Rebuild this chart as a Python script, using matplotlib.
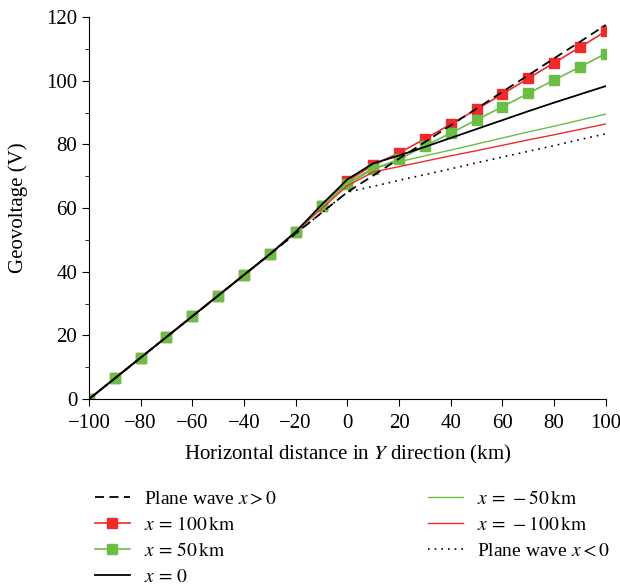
import matplotlib
matplotlib.use('Agg')
import matplotlib.pyplot as plt
import numpy as np

plt.rcParams['font.family'] = ['Liberation Serif', 'DejaVu Serif']
plt.rcParams['mathtext.fontset'] = 'stix'

# 数据：水平距离 (km) 与地电压 (V)
y_dist = np.arange(-100, 101, 10)

left_common = [0, 6.5, 13, 19.5, 26, 32.5, 39, 45.5, 52.5]

plane_pos = [0, 6.5, 13, 19.5, 26, 32.5, 39, 45.5, 52, 58.5, 65,
             70.2, 75.5, 80.7, 86, 91.2, 96.5, 101.7, 107, 112.2, 117.5]
x100 = left_common + [60.5, 68.5,
                      73.5, 77.3, 81.7, 86.3, 91, 95.8, 100.7, 105.6, 110.5, 115.5]
x50 = left_common + [60.5, 67.5,
                     72.2, 75.3, 79.5, 83.5, 87.7, 91.8, 96, 100.2, 104.3, 108.5]
x0 = left_common + [61, 69,
                    74, 76.5, 79.2, 82, 84.8, 87.6, 90.4, 93.1, 95.7, 98.3]
xm50 = left_common + [60.5, 68,
                      72.5, 74.5, 76.4, 78.2, 80.1, 82, 83.9, 85.7, 87.6, 89.5]
xm100 = left_common + [59.8, 67,
                       71.3, 73, 74.7, 76.4, 78, 79.7, 81.4, 83, 84.7, 86.4]
plane_neg = [0, 6.5, 13, 19.5, 26, 32.5, 39, 45.5, 52, 58.5, 65,
             66.8, 68.7, 70.5, 72.3, 74.2, 76, 77.8, 79.6, 81.5, 83.3]

red = '#EE2A2A'
green = '#6BBE45'
fs = 15

fig = plt.figure(figsize=(6.2, 5.86), dpi=100)
ax = fig.add_axes([0.1435, 0.319, 0.8335, 0.652])

l100, = ax.plot(y_dist, x100, color=red, lw=1.2, marker='s', ms=7.5, label=r'$x\,=\,100\,\mathrm{km}$')
l50, = ax.plot(y_dist, x50, color=green, lw=1.2, marker='s', ms=7.5, label=r'$x\,=\,50\,\mathrm{km}$')
lm100, = ax.plot(y_dist, xm100, color=red, lw=1.0, label=r'$x\,=\,-100\,\mathrm{km}$')
lm50, = ax.plot(y_dist, xm50, color=green, lw=1.0, label=r'$x\,=\,-50\,\mathrm{km}$')
lneg, = ax.plot(y_dist, plane_neg, color='black', lw=1.2, ls=(0, (1, 3)), label=r'Plane wave $x<0$')
l0, = ax.plot(y_dist, x0, color='black', lw=1.3, label=r'$x\,=\,0$')
lpos, = ax.plot(y_dist, plane_pos, color='black', lw=1.3, ls=(0, (5, 3)), label=r'Plane wave $x>0$')

ax.set_xlim(-100, 100)
ax.set_ylim(0, 120)
ax.set_xticks(np.arange(-100, 101, 20))
ax.set_yticks(np.arange(0, 121, 20))
ax.set_yticks(np.arange(10, 120, 20), minor=True)
ax.set_xticklabels(['\u2212' + str(abs(v)) if v < 0 else str(v) for v in range(-100, 101, 20)])
ax.tick_params(labelsize=fs, direction='out', length=5)
ax.tick_params(axis='x', pad=6)
ax.tick_params(which='minor', length=3)
ax.spines['top'].set_visible(False)
ax.spines['right'].set_visible(False)
ax.set_xlabel(r'Horizontal distance in $Y$ direction (km)', fontsize=fs, labelpad=7)
ax.set_ylabel('Geovoltage (V)', fontsize=fs, labelpad=13)

leg_kw = dict(loc='upper left', frameon=False, fontsize=14, handlelength=1.8,
              labelspacing=0.42, handletextpad=0.75, borderaxespad=0, borderpad=0)
fig.legend([lpos, l100, l50, l0], [h.get_label() for h in [lpos, l100, l50, l0]],
           bbox_to_anchor=(0.153, 0.164), **leg_kw)
fig.legend([lm50, lm100, lneg], [h.get_label() for h in [lm50, lm100, lneg]],
           bbox_to_anchor=(0.69, 0.164), **leg_kw)

fig.savefig('out.png', dpi=100)
